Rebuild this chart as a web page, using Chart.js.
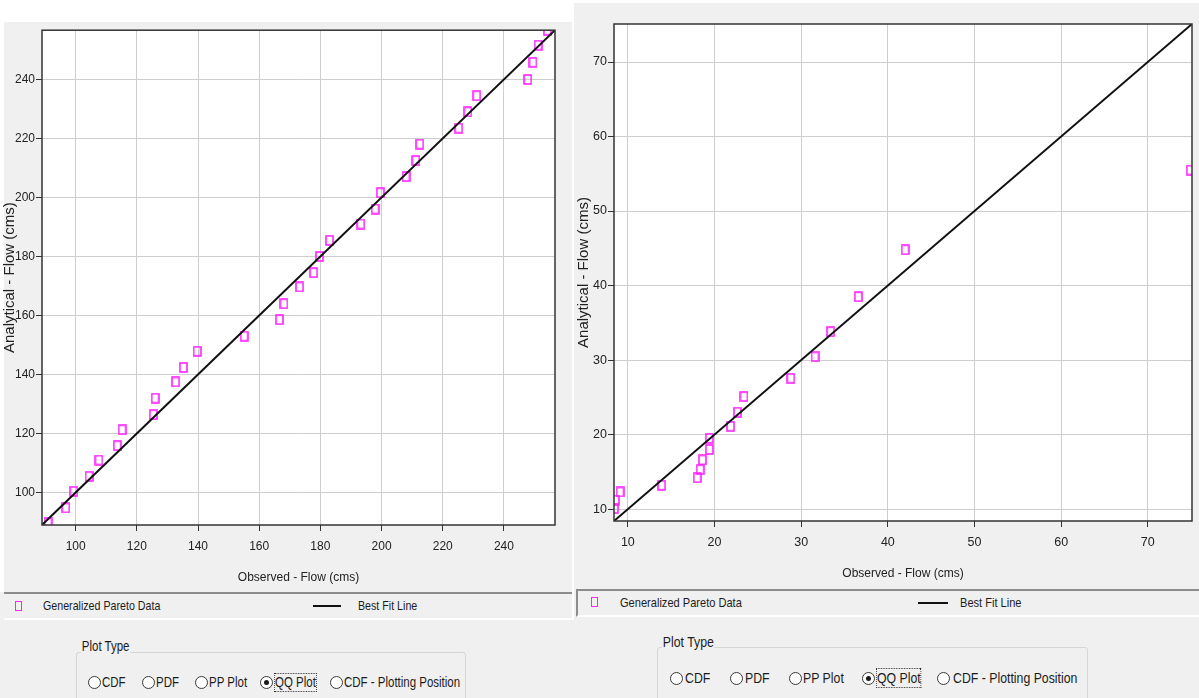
<!DOCTYPE html>
<html>
<head>
<meta charset="utf-8">
<script src="https://cdn.jsdelivr.net/npm/chart.js@4/dist/chart.umd.min.js"></script>
<style>
body { margin:0; width:1199px; height:698px; background:#f0f0f0; position:relative; overflow:hidden;
       font-family:"Liberation Sans",Arial,sans-serif; color:#1c1c1c; }
.white { position:absolute; background:#fff; }
canvas { position:absolute; }
.legbar { position:absolute; box-sizing:border-box; border-top:2px solid #8c8c8c; border-bottom:2px solid #fff; }
.nar { position:absolute; white-space:nowrap; transform:scaleX(0.82); transform-origin:0 50%; }
.legtxt { font-size:13px; line-height:16px; }
.sq { position:absolute; width:5px; height:8px; border:1.5px solid #ff22ff; }
.ln { position:absolute; height:2px; background:#111; }
.group { position:absolute; box-sizing:border-box; border:1px solid #d6d6d6; border-radius:3px; }
.gtitle { background:#f0f0f0; padding:0 1px; }
.radio { position:absolute; width:11px; height:11px; border:1px solid #3a3a3a; border-radius:50%; background:#fff; }
.radio.on::after { content:""; position:absolute; left:3px; top:3px; width:5px; height:5px; border-radius:50%; background:#1a1a1a; }
.focus { outline:1px dotted #333; outline-offset:0; }
</style>
</head>
<body>
<div class="white" style="left:0;top:0;width:574px;height:22px"></div>
<div class="white" style="left:574px;top:0;width:625px;height:3px"></div>
<div class="white" style="left:0;top:0;width:4px;height:592px"></div>
<div class="white" style="left:572px;top:22px;width:2px;height:598px"></div>

<canvas id="qqLeft" width="572" height="570" style="left:0;top:22px"></canvas>
<canvas id="qqRight" width="625" height="586" style="left:574px;top:3px"></canvas>

<!-- legend bars -->
<div class="legbar" style="left:4px;top:592px;width:568px;height:28px"></div>
<div class="sq" style="left:15px;top:601px"></div>
<div class="nar legtxt" style="left:43px;top:598px">Generalized Pareto Data</div>
<div class="ln" style="left:313px;top:605px;width:28px"></div>
<div class="nar legtxt" style="left:358px;top:598px">Best Fit Line</div>

<div class="legbar" style="left:576px;top:589px;width:623px;height:28px;border-left:2px solid #8c8c8c"></div>
<div class="sq" style="left:591px;top:597px"></div>
<div class="nar legtxt" style="left:620px;top:595px;font-size:13.5px">Generalized Pareto Data</div>
<div class="ln" style="left:918px;top:602px;width:30px"></div>
<div class="nar legtxt" style="left:960px;top:595px;font-size:13.5px">Best Fit Line</div>

<!-- plot type selectors -->
<div class="group" style="left:76px;top:652px;width:390px;height:70px"></div>
<div class="nar gtitle" style="left:81px;top:638px;font-size:14px;line-height:16px">Plot Type</div>
<div id="radiosLeft"></div>

<div class="group" style="left:657px;top:647px;width:431px;height:70px"></div>
<div class="nar gtitle" style="left:662px;top:633px;font-size:15px;line-height:17px">Plot Type</div>
<div id="radiosRight"></div>

<script>
// quantiles: observed vs analytical flow (cms)
const obsLeft = [91.0, 96.8, 99.4, 104.4, 107.6, 113.6, 115.2, 125.4, 126.0, 132.7, 135.2, 139.7,
  155.1, 166.6, 168.1, 173.2, 177.8, 179.7, 183.0, 193.2, 197.9, 199.6, 208.0, 211.2, 212.5,
  225.2, 228.2, 231.1, 247.8, 249.5, 251.2, 254.2]
const anaLeft = [89.8, 94.8, 100.4, 105.5, 111.0, 115.9, 121.3, 126.4, 132.0, 137.5, 142.4, 147.9,
  153.0, 158.6, 164.0, 169.7, 174.5, 180.0, 185.5, 191.0, 196.1, 201.6, 207.1, 212.5, 218.1,
  223.5, 229.0, 234.5, 240.0, 245.8, 251.6, 256.7]
const fitLeftX = [89, 256.7]
const fitLeftY = [89, 256.7]
const ticksLeft = [100, 120, 140, 160, 180, 200, 220, 240]

const obsRight = [8.45, 8.55, 9.1, 13.9, 18.0, 18.35, 18.6, 19.4, 19.4, 21.85, 22.65, 23.4,
  28.8, 31.6, 33.4, 36.6, 42.0, 74.9]
const anaRight = [10.1, 11.2, 12.3, 13.2, 14.2, 15.3, 16.6, 18.0, 19.5, 21.1, 23.0, 25.1,
  27.55, 30.45, 33.8, 38.5, 44.8, 55.5]
const fitRightX = [8.4, 75.1]
const fitRightY = [8.4, 75.1]
const ticksRight = [10, 20, 30, 40, 50, 60, 70]

const plotTypes = ["CDF", "PDF", "PP Plot", "QQ Plot", "CDF - Plotting Position"]

// hollow magenta box marker
const marker = document.createElement("canvas")
marker.width = 9
marker.height = 11
let mctx = marker.getContext("2d")
mctx.strokeStyle = "#ff22ff"
mctx.lineWidth = 1.6
mctx.strokeRect(1, 1, 7, 9)

// white plot background + dark frame round the plot area
const frame = {
  id: "frame",
  beforeDraw(chart) {
    let a = chart.chartArea
    let c = chart.ctx
    c.save()
    c.fillStyle = "#fff"
    c.fillRect(a.left, a.top, a.right - a.left, a.bottom - a.top)
    c.restore()
  },
  afterDraw(chart) {
    let a = chart.chartArea
    let c = chart.ctx
    c.save()
    c.strokeStyle = "#333"
    c.lineWidth = 1.5
    c.strokeRect(a.left, a.top, a.right - a.left, a.bottom - a.top)
    c.restore()
  }
}

function qqChart(id, obs, ana, fitX, fitY, ticks, min, max, box) {
  let fam = "'Liberation Sans',Arial"
  let tickFont = { family: fam, size: box.fs }
  let grid = { color: "#cdcdcd", tickColor: "#333", tickLength: 6, lineWidth: 1 }
  new Chart(document.getElementById(id), {
    type: "scatter",
    data: {
      datasets: [{
        label: "Best Fit Line",
        data: fitX.map((v, i) => ({ x: v, y: fitY[i] })),
        showLine: true,
        borderColor: "#111",
        borderWidth: 2,
        pointRadius: 0,
        clip: 0,
        order: 0
      }, {
        label: "Generalized Pareto Data",
        data: obs.map((v, i) => ({ x: v, y: ana[i] })),
        pointStyle: marker,
        pointRadius: 5,
        borderColor: "#ff22ff",
        backgroundColor: "transparent",
        clip: 0,
        order: 1
      }]
    },
    options: {
      responsive: false,
      animation: false,
      events: [],
      layout: { padding: { top: box.top, right: box.right, left: 0, bottom: 0 } },
      plugins: { legend: { display: false }, tooltip: { enabled: false } },
      scales: {
        x: {
          min: min, max: max,
          afterBuildTicks: s => { s.ticks = ticks.map(v => ({ value: v })) },
          afterFit: s => { s.height = box.xh },
          grid: grid,
          border: { display: false },
          ticks: { color: "#222", font: tickFont, padding: box.xpad, maxRotation: 0, autoSkip: false },
          title: { display: true, text: "Observed - Flow (cms)", color: "#222", font: { family: fam, size: 12 }, padding: { top: 0, bottom: box.tb } }
        },
        y: {
          min: min, max: max,
          afterBuildTicks: s => { s.ticks = ticks.map(v => ({ value: v })) },
          afterFit: s => { s.width = box.yw },
          grid: grid,
          border: { display: false },
          ticks: { color: "#222", font: tickFont, padding: 1, autoSkip: false },
          title: { display: true, text: "Analytical - Flow (cms)", color: "#222", font: { family: fam, size: 15 }, padding: { top: 1, bottom: 0 } }
        }
      }
    },
    plugins: [frame]
  })
}

qqChart("qqLeft", obsLeft, anaLeft, fitLeftX, fitLeftY, ticksLeft, 89, 256.7,
  { top: 6, right: 17, xh: 67, yw: 42, xpad: 8, tb: 7, fs: 12 })
qqChart("qqRight", obsRight, anaRight, fitRightX, fitRightY, ticksRight, 8.4, 75.1,
  { top: 21, right: 7, xh: 68, yw: 40, xpad: 8, tb: 8, fs: 12.5 })

// radio rows under each chart
function radios(id, cx, textX, cy, size) {
  let host = document.getElementById(id)
  plotTypes.forEach((t, i) => {
    let r = document.createElement("div")
    r.className = "radio" + (t == "QQ Plot" ? " on" : "")
    r.style.left = (cx[i] - 6) + "px"
    r.style.top = (cy - 6) + "px"
    host.appendChild(r)
    let s = document.createElement("div")
    s.className = "nar" + (t == "QQ Plot" ? " focus" : "")
    s.textContent = t
    s.style.left = textX[i] + "px"
    s.style.top = (cy - size * 0.6) + "px"
    s.style.fontSize = size + "px"
    s.style.lineHeight = Math.round(size * 1.2) + "px"
    host.appendChild(s)
  })
}
radios("radiosLeft", [94, 148, 201, 266, 336], [102, 156, 209, 275, 344], 682, 14)
radios("radiosRight", [676, 736, 795, 868, 943], [685, 745, 803, 877, 953], 678, 15)
</script>
</body>
</html>
